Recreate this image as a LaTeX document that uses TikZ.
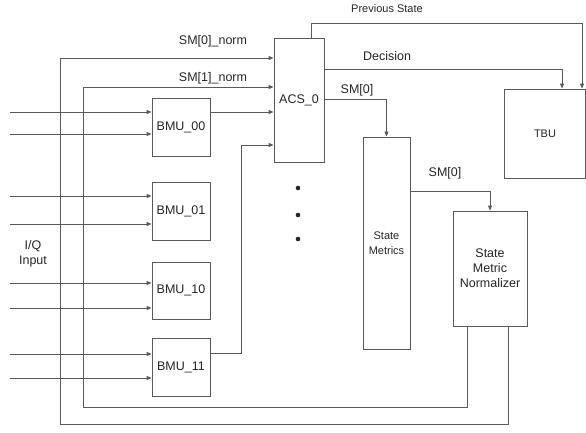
\documentclass[tikz,border=0pt]{standalone}
\usepackage{fontspec}
\setmainfont{Liberation Sans}
\usetikzlibrary{arrows.meta}
\begin{document}
\begin{tikzpicture}[x=1pt,y=-1pt,
  line width=0.9pt,
  every node/.style={text=black!85},
  blk/.style={draw=black!65,fill=white,inner sep=0pt,font=\fontsize{12.5}{15}\selectfont,align=center},
  lbl/.style={inner sep=0pt,font=\fontsize{12.5}{15}\selectfont,align=center},
  slbl/.style={inner sep=0pt,font=\fontsize{11}{13}\selectfont,align=center},
  wire/.style={draw=black!65},
  arr/.style={wire,-{Triangle[length=5pt,width=4pt]}}]
\useasboundingbox (0,0) rectangle (586,433);
% blocks
\node[blk,minimum width=58,minimum height=58] (bmu00) at (181,127) {BMU\_00};
\node[blk,minimum width=58,minimum height=58] (bmu01) at (181,211) {BMU\_01};
\node[blk,minimum width=58,minimum height=57] (bmu10) at (181,290.5) {BMU\_10};
\node[blk,minimum width=58,minimum height=58] (bmu11) at (181,367) {BMU\_11};
\node[blk,minimum width=50,minimum height=124] (acs) at (299,100) {ACS\_0};
\node[blk,minimum width=47,minimum height=212,font=\fontsize{11}{15}\selectfont] (sm) at (386.5,243) {State\\Metrics};
\node[blk,minimum width=74,minimum height=115] (norm) at (490,268.5) {State\\Metric\\Normalizer};
\node[blk,minimum width=81.5,minimum height=89,font=\fontsize{11}{13}\selectfont] (tbu) at (545,133.5) {TBU};
% inputs
\foreach \n/\b/\y in {a/bmu00/112,b/bmu00/134,c/bmu01/196,d/bmu01/224,e/bmu10/283,f/bmu10/308,g/bmu11/354,h/bmu11/378}{
  \coordinate (in\n) at (10,\y);
  \draw[arr] (in\n) -- (in\n -| \b.west);
}
\node[lbl] (iq) at (33,254) {I/Q\\Input};
% BMU to ACS
\draw[arr] (bmu00.east |- 0,112) -- (acs.west |- 0,112);
\coordinate (c11) at (241,145);
\draw[arr] (bmu11.east |- 0,353) -| (c11) -- (acs.west |- c11);
% feedback loops
\coordinate (f1) at (83,407);
\coordinate (f2) at (60,424);
\draw[arr] ([xshift=-23]norm.south) |- (f1) -- (f1 |- 0,87) -- (acs.west |- 0,87);
\draw[arr] ([xshift=18]norm.south) |- (f2) -- (f2 |- 0,58) -- (acs.west |- 0,58);
\node[lbl] (l0) at (213,41) {SM[0]\_norm};
\node[lbl] (l1) at (213,78) {SM[1]\_norm};
% ACS outputs
\coordinate (ps) at (582,23);
\draw[arr] (acs.north -| 311,0) |- (ps) -- (tbu.north -| ps);
\node[slbl] (lps) at (387,9) {Previous State};
\coordinate (dc) at (562,69);
\draw[arr] (acs.east |- dc) -- (dc) -- (tbu.north -| dc);
\node[lbl] (ldc) at (387,56) {Decision};
\draw[arr] (acs.east |- 0,99) -| (sm.north);
\node[lbl] (ls0) at (357,90) {SM[0]};
\draw[arr] (sm.east |- 0,191) -| (norm.north);
\node[lbl] (ls1) at (445,173) {SM[0]};
% dots
\foreach \y in {188,215,239}{\fill[black!85] (298,\y) circle (2.3);}
\end{tikzpicture}
\end{document}
